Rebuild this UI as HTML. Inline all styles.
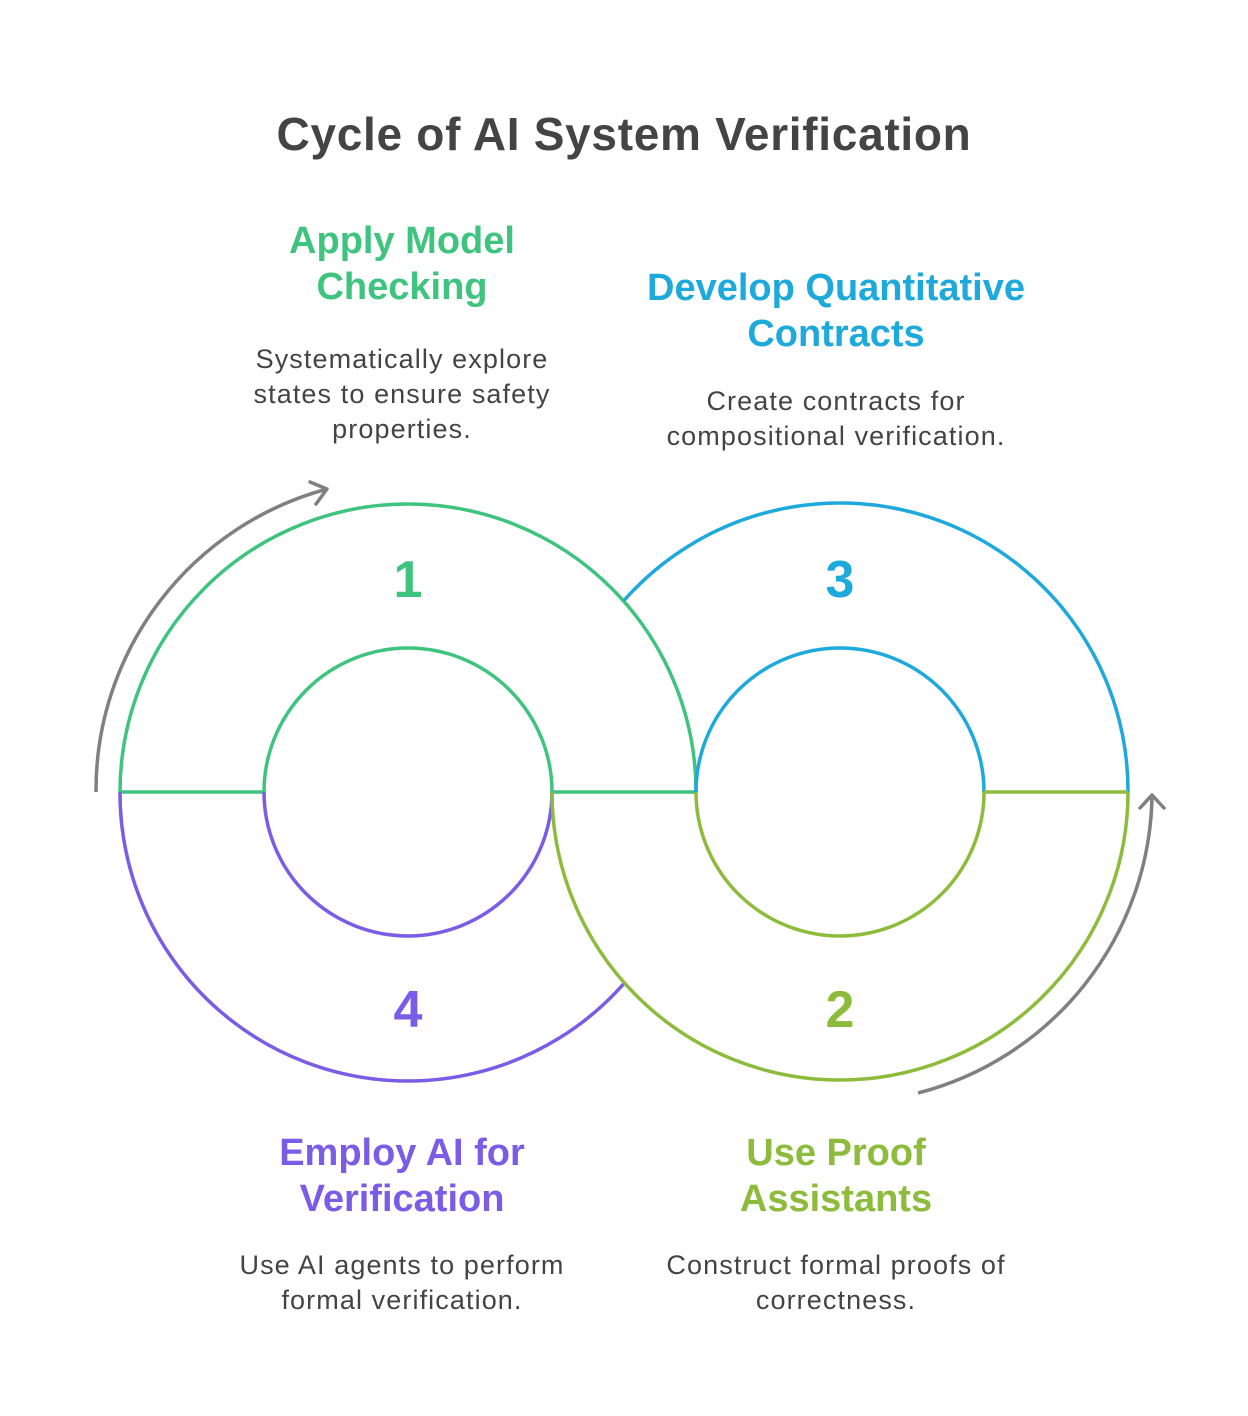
<!DOCTYPE html>
<html><head><meta charset="utf-8"><style>
html,body{margin:0;padding:0;background:#fff;}
body{width:1248px;height:1416px;position:relative;overflow:hidden;font-family:"Liberation Sans",sans-serif;}
.t{position:absolute;text-align:center;}
.h{font-weight:bold;font-size:38px;line-height:46px;}
.d{font-size:27px;line-height:35px;color:#444;letter-spacing:1.1px;}
</style></head><body>
<svg width="1248" height="1416" style="position:absolute;left:0;top:0" fill="none" stroke-width="3.5">
<path d="M120 792 A288 288 0 0 1 696 792" stroke="#3ec47f"/>
<path d="M264 792 A144 144 0 0 1 552 792" stroke="#3ec47f"/>
<path d="M120 792 H264 M552 792 H696" stroke="#3ec47f"/>
<path d="M120 792 A288 288 0 0 0 624 983.5" stroke="#7a5ce6"/>
<path d="M264 792 A144 144 0 0 0 552 792" stroke="#7a5ce6"/>
<path d="M624 600.5 A288 288 0 0 1 1128 792" stroke="#1ea9dc"/>
<path d="M696 792 A144 144 0 0 1 984 792" stroke="#1ea9dc"/>
<path d="M552 792 A288 288 0 0 0 1128 792" stroke="#8dbb3b"/>
<path d="M696 792 A144 144 0 0 0 984 792" stroke="#8dbb3b"/>
<path d="M984 792 H1128" stroke="#8dbb3b"/>
<path d="M96 792 A312 312 0 0 1 327 489" stroke="#808080"/>
<path d="M310 482 L327 489 L316 504" stroke="#808080" stroke-linecap="round" stroke-linejoin="round"/>
<path d="M1152 798 A312 312 0 0 1 918 1093" stroke="#808080"/>
<path d="M1140 808 L1152 795 L1164 808" stroke="#808080" stroke-linecap="round" stroke-linejoin="round"/>
<text x="408" y="597" text-anchor="middle" font-family="Liberation Sans" font-weight="bold" font-size="52" fill="#3ec47f" stroke="none">1</text>
<text x="840" y="597" text-anchor="middle" font-family="Liberation Sans" font-weight="bold" font-size="52" fill="#1ea9dc" stroke="none">3</text>
<text x="408" y="1027" text-anchor="middle" font-family="Liberation Sans" font-weight="bold" font-size="52" fill="#7a5ce6" stroke="none">4</text>
<text x="840" y="1027" text-anchor="middle" font-family="Liberation Sans" font-weight="bold" font-size="52" fill="#8dbb3b" stroke="none">2</text>
</svg>
<div class="t" style="left:0;width:1248px;top:108px;font-size:46px;font-weight:bold;color:#444;line-height:52px;letter-spacing:0.7px;">Cycle of AI System Verification</div>
<div class="t h" style="left:200px;width:404px;top:218px;color:#3ec47f;">Apply Model<br>Checking</div>
<div class="t d" style="left:180px;width:444px;top:342px;">Systematically explore<br>states to ensure safety<br>properties.</div>
<div class="t h" style="left:620px;width:432px;top:265px;color:#1ea9dc;">Develop Quantitative<br>Contracts</div>
<div class="t d" style="left:600px;width:472px;top:384px;">Create contracts for<br>compositional verification.</div>
<div class="t h" style="left:200px;width:404px;top:1130px;color:#7a5ce6;">Employ AI for<br>Verification</div>
<div class="t d" style="left:180px;width:444px;top:1248px;">Use AI agents to perform<br>formal verification.</div>
<div class="t h" style="left:620px;width:432px;top:1130px;color:#8dbb3b;">Use Proof<br>Assistants</div>
<div class="t d" style="left:600px;width:472px;top:1248px;">Construct formal proofs of<br>correctness.</div>
</body></html>
